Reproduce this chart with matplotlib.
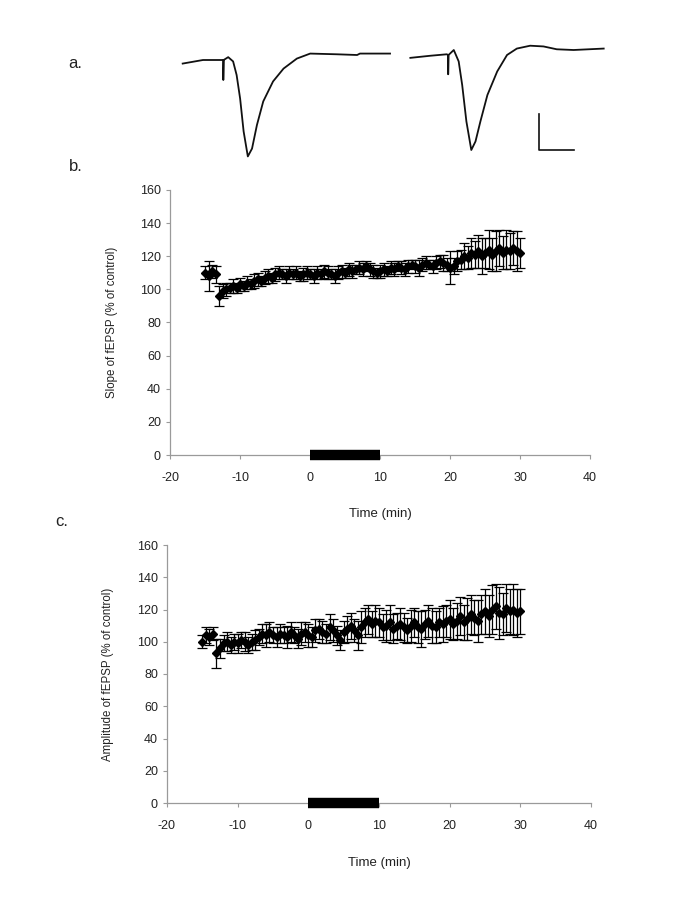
import numpy as np
import matplotlib
matplotlib.use('Agg')
import matplotlib.pyplot as plt

plt.rcParams['font.family'] = ['Liberation Sans', 'DejaVu Sans']
plt.rcParams['axes.unicode_minus'] = False

# ---- data ----
# example sweeps (ms, mV) - before and after
trace1_t = [0, 2.9, 5.8, 5.8, 5.85, 6.5, 7.2, 7.7, 8.2, 8.7, 9.3, 9.9, 10.6, 11.5,
            12.9, 14.4, 16.3, 18.2, 22.0, 24.9, 25.3, 29.6]
trace1_v = [-0.05, 0, 0, -0.28, 0, 0.04, -0.02, -0.21, -0.54, -1.0, -1.35, -1.24, -0.91,
            -0.58, -0.30, -0.12, 0.02, 0.09, 0.08, 0.07, 0.09, 0.09]
trace2_t = [0, 2.9, 5.2, 5.4, 5.4, 5.45, 6.2, 6.9, 7.4, 8.0, 8.7, 9.3, 10.0, 11.0,
            12.4, 13.8, 15.2, 17.1, 19.0, 20.9, 23.3, 27.6]
trace2_v = [0.03, 0.06, 0.08, 0.07, -0.20, 0.07, 0.14, -0.02, -0.35, -0.86, -1.26, -1.14,
            -0.86, -0.49, -0.16, 0.07, 0.16, 0.20, 0.19, 0.15, 0.14, 0.16]
scale_ms = 5
scale_mv = 0.5

time_min = np.arange(-15, 30.5, 0.5)

slope = [110, 108, 111, 109, 96, 99, 100, 101, 102, 101,
         103, 102, 104, 103, 105, 106, 105, 107, 108, 107,
         109, 110, 109, 108, 110, 109, 110, 108, 109, 110,
         109, 108, 110, 109, 111, 110, 109, 108, 110, 111,
         110, 112, 111, 112, 113, 112, 114, 112, 111, 110,
         111, 112, 111, 113, 112, 114, 113, 112, 114, 115,
         114, 113, 115, 116, 115, 114, 116, 117, 116, 115,
         113, 114, 117, 118, 120, 119, 122, 121, 123, 120,
         122, 124, 121, 123, 125, 122, 124, 123, 125, 123,
         122]
slope_err = [4, 9, 4, 5, 6, 4, 4, 3, 4, 3,
             4, 3, 4, 3, 4, 4, 3, 4, 4, 3,
             4, 4, 3, 4, 4, 3, 4, 3, 4, 4,
             3, 4, 4, 3, 4, 4, 3, 4, 4, 4,
             3, 4, 4, 3, 4, 4, 3, 4, 4, 3,
             4, 4, 3, 4, 4, 3, 4, 4, 4, 3,
             4, 5, 4, 4, 3, 4, 4, 4, 5, 4,
             10, 5, 6, 6, 8, 7, 9, 8, 10, 11,
             9, 12, 10, 12, 11, 10, 12, 11, 10, 12,
             9]

amp = [100, 104, 103, 105, 93, 96, 99, 100, 98, 100,
       99, 101, 100, 98, 100, 101, 103, 105, 104, 106,
       104, 103, 105, 104, 103, 106, 104, 102, 105, 106,
       104, 103, 107, 108, 106, 105, 109, 107, 104, 101,
       106, 108, 110, 107, 104, 109, 112, 114, 111, 113,
       112, 109, 110, 112, 108, 110, 111, 109, 107, 110,
       112, 109, 108, 111, 113, 110, 109, 112, 111, 113,
       114, 111, 113, 116, 112, 114, 117, 115, 113, 117,
       119, 116, 120, 122, 118, 117, 121, 119, 120, 118,
       119]
amp_err = [4, 5, 5, 4, 9, 6, 5, 6, 5, 5,
           6, 5, 6, 5, 5, 6, 5, 6, 7, 6,
           5, 6, 6, 5, 7, 6, 5, 6, 7, 6,
           7, 6, 7, 6, 7, 6, 8, 7, 6, 6,
           7, 8, 8, 7, 9, 10, 9, 9, 8, 10,
           9, 8, 10, 11, 9, 8, 10, 9, 8, 10,
           9, 10, 11, 9, 10, 11, 10, 9, 11, 10,
           12, 10, 11, 12, 11, 13, 12, 11, 13, 12,
           14, 13, 15, 14, 16, 13, 15, 14, 16, 15,
           14]

drug_on, drug_off = 0, 10

W, H = 685, 913
fig = plt.figure(figsize=(W / 100, H / 100), dpi=100)

txt = '#222222'
axcol = '#9a9a9a'

# ---- a. traces ----
axa = fig.add_axes([170 / W, 1 - 170 / H, 440 / W, 130 / H])
axa.plot(trace1_t, trace1_v, color='#111111', lw=1.3)
axa.plot(np.array(trace2_t) + 32.5, trace2_v, color='#111111', lw=1.3)
sx, sy = 50.8, -1.26
axa.plot([sx, sx, sx + scale_ms], [sy + scale_mv, sy, sy], color='#111111', lw=1.2)
axa.set_xlim(-1.81, 61.0)
axa.set_ylim(-1.54, 0.28)
axa.axis('off')


def panel(rect, y, yerr, ylabel, lab_x):
    ax = fig.add_axes(rect)
    ax.errorbar(time_min, y, yerr=yerr, fmt='D', color='black', ms=4.5,
                elinewidth=0.9, capsize=3.5, capthick=0.9, zorder=3)
    ax.plot([drug_on, drug_off], [0, 0], color='black', lw=7.5,
            solid_capstyle='butt', zorder=4, clip_on=False)
    ax.set_xlim(-20, 40)
    ax.set_ylim(0, 160)
    ax.set_xticks(range(-20, 41, 10))
    ax.set_yticks(range(0, 161, 20))
    for s in ['top', 'right']:
        ax.spines[s].set_visible(False)
    for s in ['left', 'bottom']:
        ax.spines[s].set_color(axcol)
        ax.spines[s].set_linewidth(0.9)
    ax.tick_params(axis='both', colors=axcol, labelcolor=txt, labelsize=9,
                   length=3, width=0.8)
    ax.tick_params(axis='x', pad=9)
    ax.set_xlabel('Time (min)', fontsize=9.5, color=txt)
    ax.set_ylabel(ylabel, fontsize=8.3, color=txt)
    ax.xaxis.set_label_coords(0.5, lab_x)
    ax.yaxis.set_label_coords(-0.125, 0.5)
    return ax


panel([170 / W, 1 - 455 / H, 420 / W, 265 / H], slope, slope_err,
      'Slope of fEPSP (% of control)', -0.2)
panel([167 / W, 1 - 803 / H, 424 / W, 258 / H], amp, amp_err,
      'Amplitude of fEPSP (% of control)', -0.209)

fig.text(75 / W, 1 - 63 / H, 'a.', fontsize=12, color=txt, ha='center', va='center')
fig.text(76 / W, 1 - 166 / H, 'b.', fontsize=12, color=txt, ha='center', va='center')
fig.text(62 / W, 1 - 522 / H, 'c.', fontsize=12, color=txt, ha='center', va='center')

fig.savefig('out.png', dpi=100)
